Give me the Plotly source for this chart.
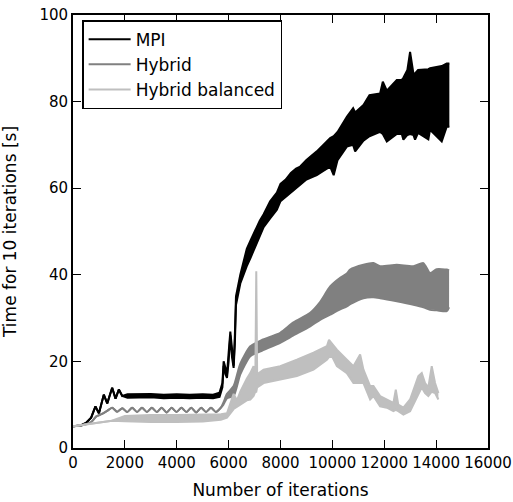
import plotly.graph_objects as go

# ---------------- data ----------------
series_names = ["MPI", "Hybrid", "Hybrid balanced"]
series_colors = ["#000000", "#808080", "#bfbfbf"]

mpi_x = [0, 300, 500, 700, 866, 1000, 1187, 1320, 1510, 1640, 1767, 1900, 2100, 2500, 3000,
         3500, 4000, 4500, 5000, 5400, 5650, 5760, 5808, 5880, 5937, 6000, 6065, 6130, 6193,
         6240, 6283, 6450, 6600, 6700, 6850, 7000, 7200, 7350, 7600, 7860, 8000, 8200, 8400,
         8600, 8760, 9000, 9200, 9400, 9650, 9914, 10050, 10200, 10558, 10800, 10878, 11198,
         11430, 11840, 11944, 12099, 12484, 12676, 12738, 12892, 12996, 13124, 13188, 13304,
         13700, 13765, 14216, 14409, 14510]
mpi_lo = [5.0, 5.2, 5.8, 7.0, 9.6, 8.0, 12.3, 10.3, 13.9, 11.4, 13.5, 12.0, 11.6, 11.6, 11.7,
          11.5, 11.6, 11.5, 11.6, 11.5, 11.8, 14.0, 19.0, 17.0, 16.2, 20.0, 26.0, 21.0, 18.5,
          24.0, 33.0, 38.0, 40.5, 42.0, 44.0, 46.0, 49.0, 51.0, 53.0, 55.0, 57.0, 58.0, 59.0,
          60.0, 61.0, 62.0, 62.5, 63.0, 64.0, 65.0, 63.0, 66.5, 69.6, 70.0, 68.5, 71.0,
          72.0, 73.0, 72.5, 70.8, 72.5, 72.5, 71.2, 72.3, 72.5, 72.3, 71.2, 72.8,
          71.3, 73.5, 70.8, 74.2, 74.2]
mpi_hi = [5.0, 5.2, 5.8, 7.0, 9.6, 8.0, 12.3, 10.3, 13.9, 11.4, 13.5, 12.0, 12.4, 12.4, 12.5,
          12.3, 12.4, 12.3, 12.4, 12.3, 12.8, 15.0, 20.0, 18.5, 17.0, 22.0, 26.9, 23.0, 19.0,
          26.0, 35.0, 40.0, 44.0, 46.0, 48.0, 50.0, 52.5, 54.0, 57.0, 59.0, 61.0, 62.0, 63.5,
          64.5, 65.0, 66.5, 67.5, 68.5, 70.0, 71.6, 72.0, 73.0, 76.5, 78.5, 77.5, 79.2,
          81.5, 81.9, 84.6, 82.5, 85.0, 85.0, 85.5, 87.3, 91.5, 86.5, 86.5, 87.3,
          87.5, 87.7, 88.2, 88.8, 88.8]

hyb_x = [0, 400, 700, 900, 1100, 1300, 1510, 1700, 1900, 2090, 2280, 2470, 2660, 2850, 3040,
         3230, 3420, 3610, 3800, 3990, 4180, 4370, 4560, 4750, 4940, 5130, 5320, 5510, 5700,
         5800, 5937, 6193, 6450, 6835, 7300, 7990, 8500, 9145, 9500, 9915, 10300, 10558, 10685,
         11198, 11583, 11840, 12484, 13124, 13508, 13765, 14022, 14409, 14500]
hyb_lo = [5.0, 5.3, 6.0, 7.3, 7.8, 8.5, 9.3, 8.4, 9.2, 8.3, 9.3, 8.3, 9.3, 8.3, 9.3,
          8.3, 9.3, 8.2, 9.3, 8.3, 9.3, 8.3, 9.3, 8.2, 9.3, 8.3, 9.3, 8.3, 9.3,
          10.0, 11.5, 12.0, 17.0, 21.2, 22.5, 24.3, 26.0, 28.1, 29.5, 30.8, 32.0, 32.7, 33.2,
          34.6, 34.8, 34.6, 33.9, 33.1, 32.5, 31.9, 31.8, 31.6, 32.5]
hyb_hi = [5.0, 5.3, 6.0, 7.3, 7.8, 8.5, 9.3, 8.4, 9.2, 8.3, 9.3, 8.3, 9.3, 8.3, 9.3,
          8.3, 9.3, 8.2, 9.3, 8.3, 9.3, 8.3, 9.3, 8.2, 9.3, 8.3, 9.3, 8.3, 9.3,
          10.5, 12.5, 14.3, 19.5, 23.5, 25.0, 26.6, 29.0, 31.2, 33.5, 37.3, 39.3, 40.3, 41.2,
          42.3, 42.7, 42.0, 42.3, 42.0, 42.7, 40.4, 41.3, 41.2, 41.0]

bal_x = [0, 500, 1000, 1500, 2000, 3000, 4000, 5000, 5700, 5937, 6193, 6322, 6450, 6700, 6835,
         6962, 7030, 7066, 7100, 7347, 7990, 8632, 9272, 9788, 9870, 10000, 10173, 10558,
         10812, 11070, 11198, 11456, 11583, 11840, 12099, 12353, 12445, 12540, 12738, 12996,
         13316, 13446, 13573, 13700, 13831, 13959, 14087]
bal_lo = [5.0, 5.4, 5.9, 6.3, 6.2, 6.0, 6.0, 6.1, 6.5, 7.0, 9.0, 9.6, 10.0, 11.0, 11.2,
          12.0, 13.0, 13.0, 14.0, 15.0, 15.8, 16.6, 18.1, 20.4, 21.0, 21.0, 18.9, 17.3,
          15.0, 15.0, 15.0, 11.2, 12.0, 9.6, 9.3, 8.5, 8.8, 8.5, 7.7, 8.5,
          12.7, 14.0, 12.7, 12.0, 13.0, 12.7, 11.2]
bal_hi = [5.0, 5.4, 5.9, 6.3, 7.4, 7.6, 7.6, 7.7, 7.8, 8.0, 12.5, 11.0, 13.0, 16.0, 17.3,
          18.9, 16.0, 40.8, 17.0, 18.1, 18.9, 20.4, 22.0, 23.5, 25.0, 24.0, 22.7, 20.4,
          18.9, 21.6, 18.1, 14.3, 14.3, 12.0, 11.2, 10.4, 13.5, 10.0, 9.3, 11.2,
          16.6, 17.3, 15.0, 14.0, 18.9, 15.0, 12.7]

x_ticks = [0, 2000, 4000, 6000, 8000, 10000, 12000, 14000, 16000]
y_ticks = [0, 20, 40, 60, 80, 100]

# ---------------- figure ----------------
fig = go.Figure()
data = [(mpi_x, mpi_lo, mpi_hi), (hyb_x, hyb_lo, hyb_hi), (bal_x, bal_lo, bal_hi)]
shapes = ["linear", "spline", "linear"]
for (xs, lo, hi), name, col, shp in zip(data, series_names, series_colors, shapes):
    fig.add_trace(go.Scatter(x=xs, y=lo, mode="lines",
                             line=dict(color=col, width=2.0, shape=shp, smoothing=0.6),
                             showlegend=False, hoverinfo="skip"))
    fig.add_trace(go.Scatter(x=xs, y=hi, mode="lines",
                             line=dict(color=col, width=2.0, shape=shp, smoothing=0.6),
                             fill="tonexty", fillcolor=col, showlegend=False, name=name))
# legend entries (line samples)
for name, col in zip(series_names, series_colors):
    fig.add_trace(go.Scatter(x=[None], y=[None], mode="lines", name=name,
                             line=dict(color=col, width=2)))

font_family = "DejaVu Sans"
fig.update_layout(
    width=513, height=502,
    margin=dict(l=72.5, r=25, t=15, b=53.5),
    paper_bgcolor="white", plot_bgcolor="white",
    font=dict(family=font_family, color="black", size=15),
    showlegend=True,
    legend=dict(x=0.022, y=0.988, xanchor="left", yanchor="top", traceorder="normal",
                bordercolor="black", borderwidth=1.5, bgcolor="white", itemwidth=42,
                font=dict(size=17, family=font_family), tracegroupgap=0),
)
axis_common = dict(showline=True, linecolor="black", linewidth=1.8, mirror="allticks",
                   ticks="inside", ticklen=8, tickwidth=1.2, tickcolor="black",
                   showgrid=False, zeroline=False, automargin=False,
                   ticklabeloverflow="allow",
                   tickfont=dict(size=15, family=font_family))
fig.update_xaxes(range=[0, 16000], tickvals=x_ticks, ticktext=[str(t) for t in x_ticks],
                 tickangle=0,
                 title=dict(text="Number of iterations", font=dict(size=17), standoff=13),
                 **axis_common)
fig.update_yaxes(range=[0, 100], tickvals=y_ticks, ticktext=[str(t) for t in y_ticks],
                 title=dict(text="Time for 10 iterations [s]", font=dict(size=17), standoff=19),
                 **axis_common)

# remove the default 8px page margin so the 513x502 figure fills the window exactly
fig.write_html("out.html", config={"displayModeBar": False},
               post_script="document.body.style.margin='0px';")
